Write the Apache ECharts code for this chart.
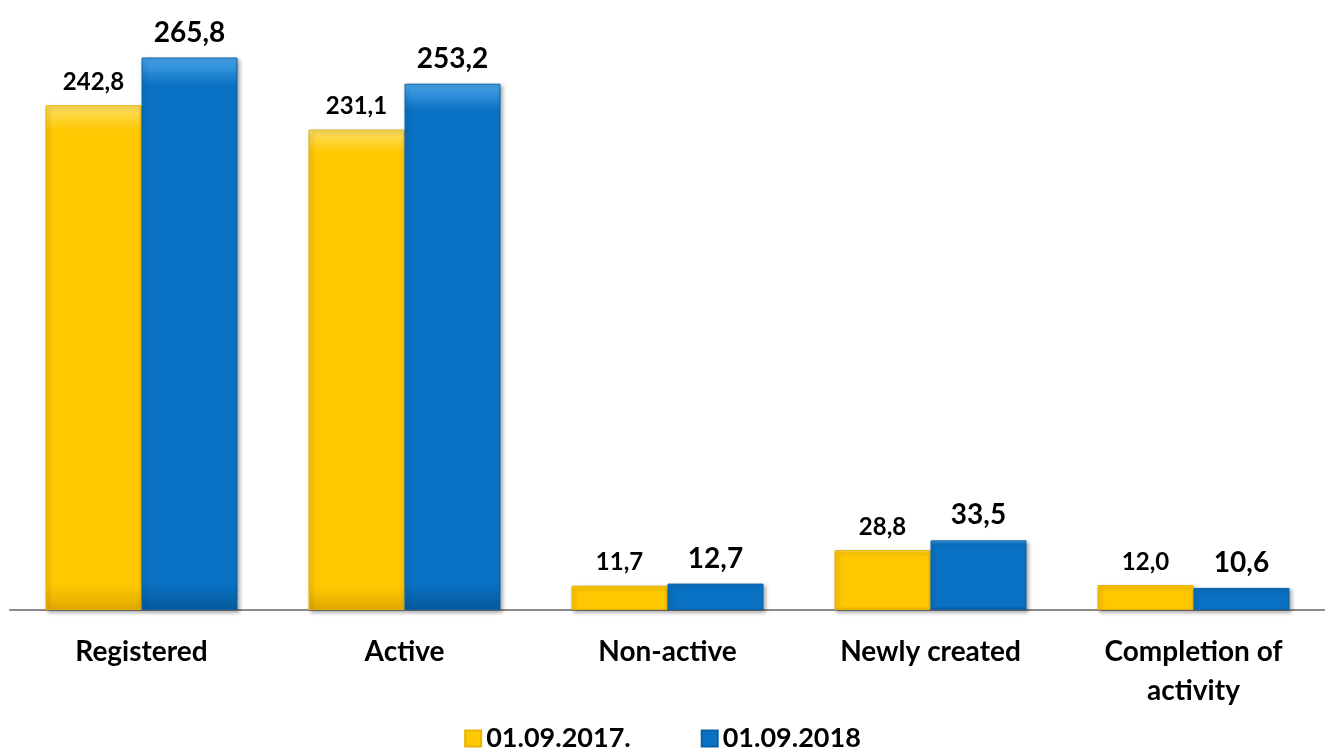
<!DOCTYPE html>
<html><head><meta charset="utf-8">
<script src="https://cdn.jsdelivr.net/npm/echarts@6/dist/echarts.min.js"></script>
<style>html,body{margin:0;padding:0;background:#fff;overflow:hidden}#c{width:1325px;height:751px}</style>
</head><body><div id="c"></div>
<script>
var categories = ['Registered', 'Active', 'Non-active', 'Newly created', 'Completion of\nactivity'];
var seriesNames = ['01.09.2017.', '01.09.2018'];
var values2017 = [242.8, 231.1, 11.7, 28.8, 12.0];
var values2018 = [265.8, 253.2, 12.7, 33.5, 10.6];

var FONT = 'Lato, "Open Sans", sans-serif';
function fmt(p){ return p.value.toFixed(1).replace('.', ','); }
function grad(top, mid, bot){
  return new echarts.graphic.LinearGradient(0,0,0,1,[
    {offset:0,color:top},{offset:0.05,color:mid},{offset:0.95,color:mid},{offset:1,color:bot}
  ]);
}
var chart = echarts.init(document.getElementById('c'));
chart.setOption({
  backgroundColor:'#fff',
  animation:false,
  grid:{left:10,width:1326,top:28,height:582},
  legend:{
    top:720,left:'center',itemWidth:16,itemHeight:16,itemGap:70,icon:'rect',
    textStyle:{fontFamily:FONT,fontWeight:'bold',fontSize:27,color:'#000'},
    data:seriesNames
  },
  xAxis:{
    type:'category',data:categories,
    axisLine:{lineStyle:{color:'#8c8c8c',width:2}},
    axisTick:{show:false},
    axisLabel:{margin:22,fontFamily:FONT,fontWeight:'bold',fontSize:28,color:'#000',lineHeight:39,interval:0}
  },
  yAxis:{type:'value',min:0,max:280,show:false,splitLine:{show:false}},
  series:[
    {name:seriesNames[0],type:'bar',data:values2017,barWidth:96,barGap:'0%',
     itemStyle:{color:grad('#ffe066','#ffc800','#e0a800'),borderColor:'#e6b400',borderWidth:1,
       shadowColor:'rgba(0,0,0,0.35)',shadowBlur:4,shadowOffsetX:2,shadowOffsetY:2},
     label:{show:true,position:'top',distance:11,formatter:fmt,fontFamily:FONT,fontWeight:'bold',fontSize:24,color:'#000'}},
    {name:seriesNames[1],type:'bar',data:values2018,barWidth:96,
     itemStyle:{color:grad('#4aa6e8','#0a72c4','#055a9c'),borderColor:'#0862a8',borderWidth:1,
       shadowColor:'rgba(0,0,0,0.35)',shadowBlur:4,shadowOffsetX:2,shadowOffsetY:2},
     label:{show:true,position:'top',distance:11,formatter:fmt,fontFamily:FONT,fontWeight:'bold',fontSize:28,color:'#000'}}
  ]
});
</script></body></html>
